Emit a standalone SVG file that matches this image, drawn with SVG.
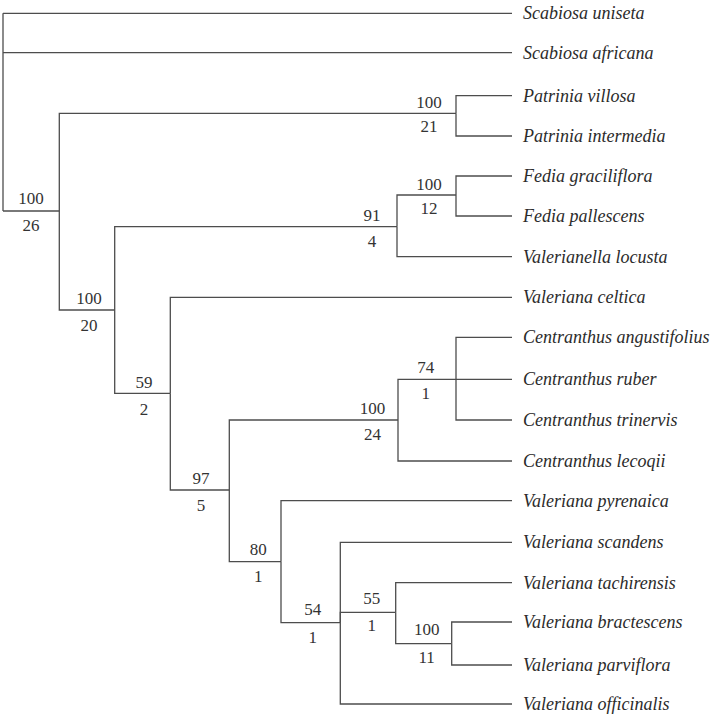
<svg xmlns="http://www.w3.org/2000/svg" width="715" height="719" viewBox="0 0 715 719">
<style>
.e{fill:none;stroke:#4d4d4d;stroke-width:1.3}
.t{font-family:"Liberation Serif",serif;font-style:italic;font-size:18px;fill:#2b2b2b}
.n{font-family:"Liberation Serif",serif;font-size:17px;fill:#333;text-anchor:middle}
</style>
<rect width="715" height="719" fill="#fff"/>
<g id="connectors">
<path class="e" d="M3,13.3 V211"/>
<path class="e" d="M3,13.3 H512"/>
<path class="e" d="M3,52.7 H512"/>
<path class="e" d="M3,211 H59.3"/>
<path class="e" d="M59.3,211 V113.3 H456"/>
<path class="e" d="M59.3,211 V310 H114.7"/>
<path class="e" d="M456,113.3 V95.7 H512"/>
<path class="e" d="M456,113.3 V136 H512"/>
<path class="e" d="M114.7,310 V226.7 H397"/>
<path class="e" d="M114.7,310 V393.3 H170.3"/>
<path class="e" d="M397,226.7 V195 H456"/>
<path class="e" d="M397,226.7 V256.7 H512"/>
<path class="e" d="M456,195 V176 H512"/>
<path class="e" d="M456,195 V216 H512"/>
<path class="e" d="M170.3,393.3 V297.3 H512"/>
<path class="e" d="M170.3,393.3 V490 H229.3"/>
<path class="e" d="M229.3,490 V420 H398"/>
<path class="e" d="M229.3,490 V561.7 H281"/>
<path class="e" d="M398,420 V379.3 H456"/>
<path class="e" d="M398,420 V461 H512"/>
<path class="e" d="M456,379.3 V337.3 H512"/>
<path class="e" d="M456,379.3 H512"/>
<path class="e" d="M456,379.3 V420 H512"/>
<path class="e" d="M281,561.7 V500.7 H512"/>
<path class="e" d="M281,561.7 V622.7 H340.3"/>
<path class="e" d="M340.3,622.7 V542.3 H512"/>
<path class="e" d="M340.3,622.7 V612.3 H395.7"/>
<path class="e" d="M340.3,622.7 V704 H512"/>
<path class="e" d="M395.7,612.3 V582.7 H512"/>
<path class="e" d="M395.7,612.3 V643.7 H451.7"/>
<path class="e" d="M451.7,643.7 V622 H512"/>
<path class="e" d="M451.7,643.7 V665 H512"/>
</g>
<g id="leaf-scabiosa-uniseta"><text class="t" x="523" y="19">Scabiosa uniseta</text></g>
<g id="leaf-scabiosa-africana"><text class="t" x="523" y="58.5">Scabiosa africana</text></g>
<g id="leaf-patrinia-villosa"><text class="t" x="523" y="101.5">Patrinia villosa</text></g>
<g id="leaf-patrinia-intermedia"><text class="t" x="523" y="141.5">Patrinia intermedia</text></g>
<g id="leaf-fedia-graciliflora"><text class="t" x="523" y="181.5">Fedia graciliflora</text></g>
<g id="leaf-fedia-pallescens"><text class="t" x="523" y="221.5">Fedia pallescens</text></g>
<g id="leaf-valerianella-locusta"><text class="t" x="523" y="262.5">Valerianella locusta</text></g>
<g id="leaf-valeriana-celtica"><text class="t" x="523" y="303">Valeriana celtica</text></g>
<g id="leaf-centranthus-angustifolius"><text class="t" x="523" y="343">Centranthus angustifolius</text></g>
<g id="leaf-centranthus-ruber"><text class="t" x="523" y="385">Centranthus ruber</text></g>
<g id="leaf-centranthus-trinervis"><text class="t" x="523" y="425.5">Centranthus trinervis</text></g>
<g id="leaf-centranthus-lecoqii"><text class="t" x="523" y="466.5">Centranthus lecoqii</text></g>
<g id="leaf-valeriana-pyrenaica"><text class="t" x="523" y="506.5">Valeriana pyrenaica</text></g>
<g id="leaf-valeriana-scandens"><text class="t" x="523" y="548">Valeriana scandens</text></g>
<g id="leaf-valeriana-tachirensis"><text class="t" x="523" y="588.5">Valeriana tachirensis</text></g>
<g id="leaf-valeriana-bractescens"><text class="t" x="523" y="627.5">Valeriana bractescens</text></g>
<g id="leaf-valeriana-parviflora"><text class="t" x="523" y="670.5">Valeriana parviflora</text></g>
<g id="leaf-valeriana-officinalis"><text class="t" x="523" y="709.5">Valeriana officinalis</text></g>
<g id="node-root"><text class="n" x="31" y="204">100</text><text class="n" x="31" y="231">26</text></g>
<g id="node-patrinia"><text class="n" x="429" y="108">100</text><text class="n" x="429" y="132">21</text></g>
<g id="node-B"><text class="n" x="89" y="304">100</text><text class="n" x="89" y="331">20</text></g>
<g id="node-C"><text class="n" x="372" y="221">91</text><text class="n" x="372" y="247">4</text></g>
<g id="node-fedia"><text class="n" x="429" y="189.5">100</text><text class="n" x="429" y="213.5">12</text></g>
<g id="node-E"><text class="n" x="144" y="388">59</text><text class="n" x="144" y="415">2</text></g>
<g id="node-F"><text class="n" x="201" y="484">97</text><text class="n" x="201" y="511">5</text></g>
<g id="node-G"><text class="n" x="372.5" y="414">100</text><text class="n" x="372.5" y="440">24</text></g>
<g id="node-H"><text class="n" x="425.7" y="373">74</text><text class="n" x="425.7" y="398.5">1</text></g>
<g id="node-I"><text class="n" x="258.3" y="555">80</text><text class="n" x="258.3" y="582">1</text></g>
<g id="node-J"><text class="n" x="312.7" y="615">54</text><text class="n" x="312.7" y="642.5">1</text></g>
<g id="node-K"><text class="n" x="371.7" y="603.5">55</text><text class="n" x="371.7" y="631">1</text></g>
<g id="node-L"><text class="n" x="426.7" y="635">100</text><text class="n" x="426.7" y="663">11</text></g>
</svg>
